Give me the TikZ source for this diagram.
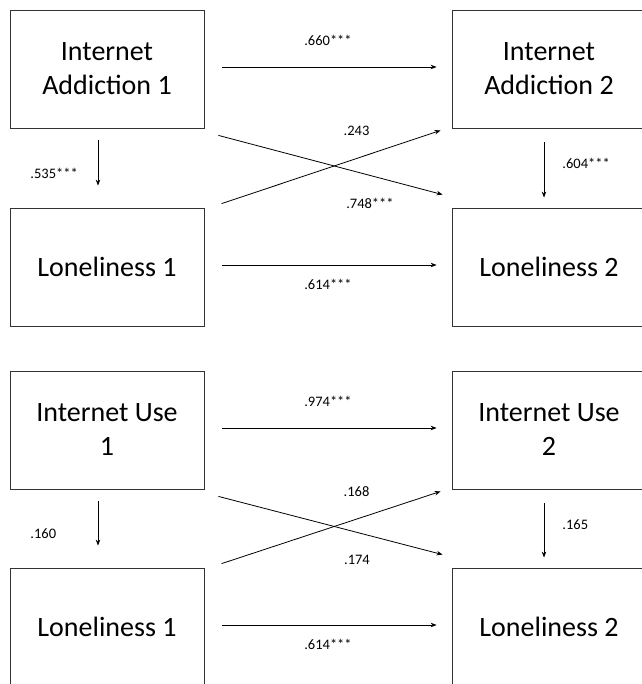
\documentclass[tikz,border=0pt]{standalone}
\usepackage{fontspec}
\setmainfont{Carlito}
\usetikzlibrary{positioning}
\usetikzlibrary{arrows.meta}
\usetikzlibrary{calc}
\tikzset{x=1pt, y=-1pt, % Pixel-like units, y grows downwards
      every box/.style={ % Sets the properties for each variable box
      draw=black!80,
      line width=0.8pt,
      minimum width=194pt,
      minimum height=118pt,
      align=center,
      font=\fontsize{28}{34}\selectfont},
      every path/.style={ % Sets the properties for each path
      line width=0.8pt},
      coef/.style={ % Sets the properties for each coefficient label
      font=\fontsize{14.5}{16}\selectfont,
      inner sep=0pt},
      path arrow/.style={ % Makes paths directed with small filled heads
      -{Stealth[length=6pt,width=4.5pt]}}}

\begin{document}
\begin{tikzpicture}
      \useasboundingbox (0,0) rectangle (641,684);
      % Internet addiction model
      \node[every box] (ia1) at (107,69) {Internet\\Addiction 1};
      \node[every box] (ia2) at (549,69) {Internet\\Addiction 2};
      \node[every box] (lo1) at (107,267) {Loneliness 1};
      \node[every box] (lo2) at (549,267) {Loneliness 2};
      \draw[path arrow, shorten <=18pt, shorten >=15pt] ($(ia1.east)+(0,-2)$) -- node[coef, above=21pt] {.660***} ($(ia2.west)+(0,-2)$);
      \draw[path arrow, shorten <=18pt, shorten >=15pt] ($(lo1.east)+(0,-2)$) -- node[coef, below=14pt] {.614***} ($(lo2.west)+(0,-2)$);
      \draw[path arrow, shorten <=12pt, shorten >=22pt] ($(ia1.south)+(-9,0)$) -- node[coef, anchor=west, xshift=-68pt, yshift=-5pt] {.535***} ($(lo1.north)+(-9,0)$);
      \draw[path arrow, shorten <=14pt, shorten >=10pt] ($(ia2.south)+(-5,0)$) -- node[coef, anchor=west, xshift=18pt, yshift=5pt] {.604***} ($(lo2.north)+(-5,0)$);
      \draw[path arrow] ($(ia1.south east)+(14,7)$) -- node[coef, pos=0.676, below=22pt] {.748***} ($(lo2.north west)+(-9,-13)$);
      \draw[path arrow] ($(lo1.north west)+(212,-4)$) -- node[coef, pos=0.616, above=22pt] {.243} ($(ia2.south west)+(-11,2)$);
      % Internet use model
      \node[every box] (iu1) at (107,430) {Internet Use\\1};
      \node[every box] (iu2) at (549,430) {Internet Use\\2};
      \node[every box] (lb1) at (107,627) {Loneliness 1};
      \node[every box] (lb2) at (549,627) {Loneliness 2};
      \draw[path arrow, shorten <=18pt, shorten >=15pt] ($(iu1.east)+(0,-2)$) -- node[coef, above=21pt] {.974***} ($(iu2.west)+(0,-2)$);
      \draw[path arrow, shorten <=18pt, shorten >=15pt] ($(lb1.east)+(0,-2)$) -- node[coef, below=14pt] {.614***} ($(lb2.west)+(0,-2)$);
      \draw[path arrow, shorten <=12pt, shorten >=22pt] ($(iu1.south)+(-9,0)$) -- node[coef, anchor=west, xshift=-68pt, yshift=-5pt] {.160} ($(lb1.north)+(-9,0)$);
      \draw[path arrow, shorten <=14pt, shorten >=10pt] ($(iu2.south)+(-5,0)$) -- node[coef, anchor=west, xshift=18pt, yshift=4pt] {.165} ($(lb2.north)+(-5,0)$);
      \draw[path arrow] ($(iu1.south east)+(14,7)$) -- node[coef, pos=0.618, below=22pt] {.174} ($(lb2.north west)+(-9,-13)$);
      \draw[path arrow] ($(lb1.north west)+(212,-4)$) -- node[coef, pos=0.616, above=22pt] {.168} ($(iu2.south west)+(-11,2)$);
\end{tikzpicture}
\end{document}
